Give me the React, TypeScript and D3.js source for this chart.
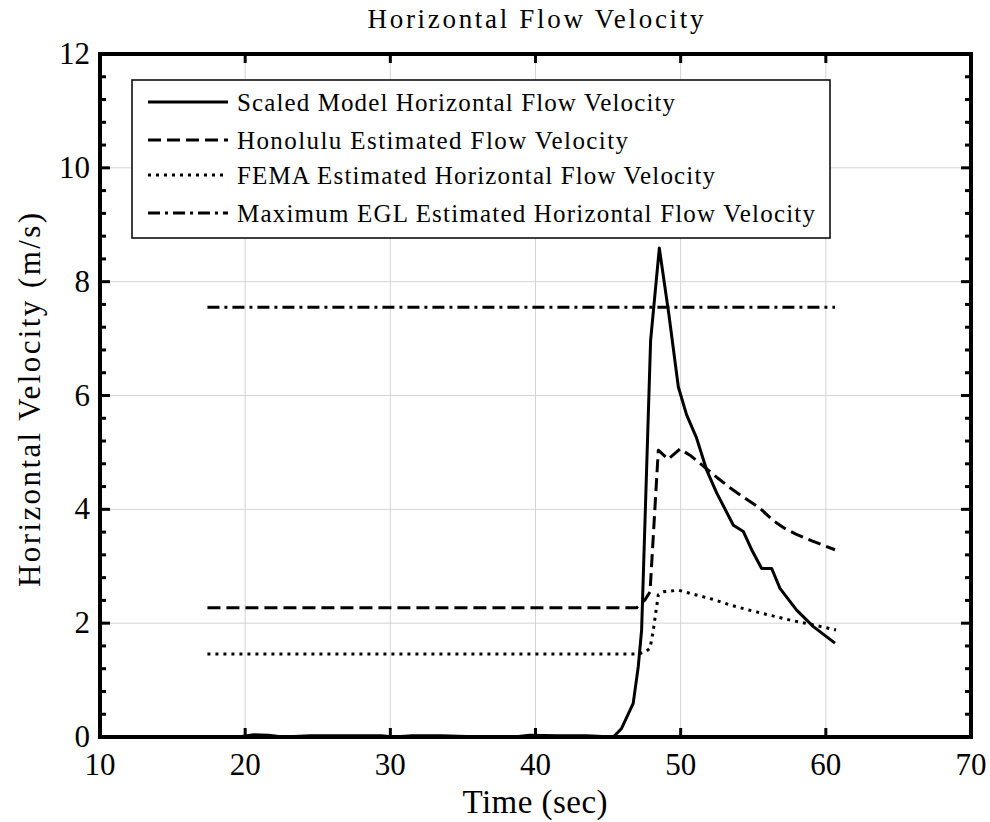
import * as d3 from "d3"

// time (s) and velocity (m/s)
const modelT = [17.4, 19.5, 20.6, 21.6, 22.6, 24.5, 27.5, 29.4, 30.2, 31.5, 33.5, 35.3, 36.5, 38.5, 39.6, 41.5, 43.5, 45.36, 45.93, 46.73, 47.08, 47.31, 47.93, 48.53, 49.2, 49.84, 50.41, 51.1, 51.79, 52.48, 53.63, 54.32, 54.89, 55.58, 56.27, 56.84, 57.99, 59.14, 60.63]
const modelV = [0, 0.0, 0.04, 0.03, 0, 0.02, 0.02, 0.02, 0, 0.02, 0.02, 0.01, 0, 0, 0.03, 0.02, 0.02, 0, 0.15, 0.59, 1.24, 1.88, 6.97, 8.59, 7.4, 6.15, 5.66, 5.25, 4.69, 4.29, 3.72, 3.61, 3.29, 2.96, 2.96, 2.61, 2.23, 1.94, 1.65]

const honoluluT = [17.4, 46.96, 47.54, 47.89, 48.46, 49.14, 49.95, 50.7, 51.56, 52.5, 53.4, 54.4, 55.46, 56.38, 57.2, 57.9, 59.0, 60.63]
const honoluluV = [2.27, 2.27, 2.41, 2.55, 5.04, 4.88, 5.06, 4.94, 4.76, 4.56, 4.38, 4.2, 4.02, 3.8, 3.66, 3.57, 3.45, 3.29]

const femaT = [17.4, 47.08, 47.6, 47.89, 48.1, 48.46, 48.8, 49.84, 51.0, 52.2, 53.4, 54.7, 56.15, 57.6, 59.14, 60.7]
const femaV = [1.46, 1.46, 1.5, 1.56, 1.85, 2.5, 2.55, 2.58, 2.5, 2.42, 2.32, 2.23, 2.14, 2.05, 1.97, 1.88]

const eglT = [17.4, 60.63]
const eglV = [7.55, 7.55]

const xTicks = [10, 20, 30, 40, 50, 60, 70]
const yTicks = [0, 2, 4, 6, 8, 10, 12]

const legendLabels = [
  "Scaled Model Horizontal Flow Velocity",
  "Honolulu Estimated Flow Velocity",
  "FEMA Estimated Horizontal Flow Velocity",
  "Maximum EGL Estimated Horizontal Flow Velocity",
]
const legendWidths = [438, 391, 478, 578]
const dashes = ["none", "13,6", "3,5", "12,5,3,5"]

const serif = { fontFamily: "Liberation Serif" }

export default function App() {
  const width = 990
  const height = 822
  const margin = { top: 54, right: 19, bottom: 85, left: 100 }
  const innerW = width - margin.left - margin.right
  const innerH = height - margin.top - margin.bottom

  const x = d3.scaleLinear().domain([10, 70]).range([0, innerW])
  const y = d3.scaleLinear().domain([0, 12]).range([innerH, 0])

  const line = d3
    .line<[number, number]>()
    .x((d) => x(d[0]))
    .y((d) => y(d[1]))

  const series = [
    d3.zip(modelT, modelV),
    d3.zip(honoluluT, honoluluV),
    d3.zip(femaT, femaV),
    d3.zip(eglT, eglV),
  ] as [number, number][][]

  const minorY = d3.range(0, 12.01, 0.4).filter((v) => Math.abs(v / 2 - Math.round(v / 2)) > 0.01)

  // legend box
  const lg = { x: 32, y: 26, w: 698, h: 158 }
  const rowY = [48, 86, 121, 159]

  return (
    <svg width={width} height={height} style={{ position: "absolute", left: 0, top: 0, background: "#fff" }}>
      <text
        x={margin.left + innerW / 2}
        y={28}
        textAnchor="middle"
        fontSize={27}
        textLength={336}
        lengthAdjust="spacing"
        style={serif}
      >
        Horizontal Flow Velocity
      </text>
      <g transform={`translate(${margin.left},${margin.top})`}>
        {/* grid */}
        {xTicks.slice(1, -1).map((t) => (
          <line key={"gx" + t} x1={x(t)} x2={x(t)} y1={0} y2={innerH} stroke="#d4d4d4" strokeWidth={1} />
        ))}
        {yTicks.slice(1, -1).map((t) => (
          <line key={"gy" + t} x1={0} x2={innerW} y1={y(t)} y2={y(t)} stroke="#d4d4d4" strokeWidth={1} />
        ))}

        {/* series */}
        {series.map((s, i) => (
          <path
            key={"s" + i}
            d={line(s) ?? ""}
            fill="none"
            stroke="#000"
            strokeWidth={3}
            strokeDasharray={dashes[i]}
            strokeLinejoin="round"
          />
        ))}

        {/* ticks */}
        {xTicks.slice(1, -1).map((t) => (
          <g key={"tx" + t}>
            <line x1={x(t)} x2={x(t)} y1={innerH} y2={innerH - 9} stroke="#000" strokeWidth={3} />
            <line x1={x(t)} x2={x(t)} y1={0} y2={9} stroke="#000" strokeWidth={3} />
          </g>
        ))}
        {yTicks.map((t) => (
          <g key={"ty" + t}>
            <line x1={0} x2={10} y1={y(t)} y2={y(t)} stroke="#000" strokeWidth={3} />
            <line x1={innerW} x2={innerW - 10} y1={y(t)} y2={y(t)} stroke="#000" strokeWidth={3} />
          </g>
        ))}
        {minorY.map((t) => (
          <g key={"my" + t}>
            <line x1={0} x2={6} y1={y(t)} y2={y(t)} stroke="#000" strokeWidth={3} />
            <line x1={innerW} x2={innerW - 6} y1={y(t)} y2={y(t)} stroke="#000" strokeWidth={3} />
          </g>
        ))}

        {/* frame */}
        <rect x={0} y={0} width={innerW} height={innerH} fill="none" stroke="#000" strokeWidth={4} />

        {/* tick labels */}
        {xTicks.map((t) => (
          <text key={"lx" + t} x={x(t)} y={innerH + 38} textAnchor="middle" fontSize={31} style={serif}>
            {t}
          </text>
        ))}
        {yTicks.map((t) => (
          <text key={"ly" + t} x={-10} y={y(t) + 10} textAnchor="end" fontSize={31} style={serif}>
            {t}
          </text>
        ))}

        {/* legend */}
        <rect x={lg.x} y={lg.y} width={lg.w} height={lg.h} fill="#fff" stroke="#000" strokeWidth={1.5} />
        {legendLabels.map((l, i) => (
          <g key={"lg" + i}>
            <line
              x1={48}
              x2={128}
              y1={rowY[i]}
              y2={rowY[i]}
              stroke="#000"
              strokeWidth={3}
              strokeDasharray={dashes[i]}
            />
            <text
              x={137}
              y={rowY[i] + 9}
              fontSize={25}
              textLength={legendWidths[i]}
              lengthAdjust="spacing"
              style={serif}
            >
              {l}
            </text>
          </g>
        ))}
      </g>

      {/* axis labels */}
      <text x={535} y={813} textAnchor="middle" fontSize={33} textLength={145} lengthAdjust="spacing" style={serif}>
        Time (sec)
      </text>
      <text
        transform="translate(40,400) rotate(-90)"
        textAnchor="middle"
        fontSize={31}
        textLength={374}
        lengthAdjust="spacing"
        style={serif}
      >
        Horizontal Velocity (m/s)
      </text>
    </svg>
  )
}
